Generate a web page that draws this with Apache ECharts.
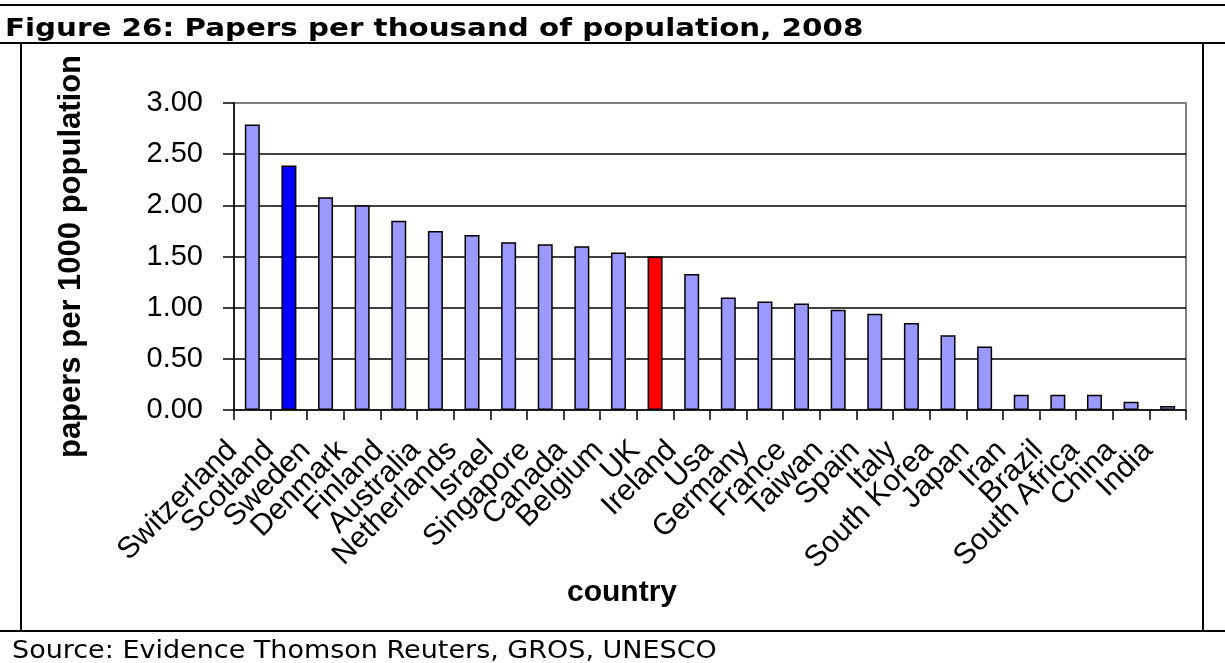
<!DOCTYPE html>
<html>
<head>
<meta charset="utf-8">
<script src="https://cdn.jsdelivr.net/npm/echarts@6/dist/echarts.min.js"></script>
<style>
  html, body { margin: 0; padding: 0; background: #ffffff; }
  #chart { width: 1225px; height: 663px; }
</style>
</head>
<body>
<div id="chart"></div>
<script>
// Countries, ordered by output per head
const countries = [
  'Switzerland', 'Scotland', 'Sweden', 'Denmark', 'Finland', 'Australia',
  'Netherlands', 'Israel', 'Singapore', 'Canada', 'Belgium', 'UK', 'Ireland',
  'Usa', 'Germany', 'France', 'Taiwan', 'Spain', 'Italy', 'South Korea',
  'Japan', 'Iran', 'Brazil', 'South Africa', 'China', 'India'
];

// Papers per 1000 population, 2008
const papersPerThousand = [
  2.79, 2.39, 2.08, 2.00, 1.85, 1.75,
  1.71, 1.64, 1.62, 1.60, 1.54, 1.50, 1.33,
  1.10, 1.06, 1.04, 0.98, 0.94, 0.85, 0.73,
  0.62, 0.15, 0.15, 0.15, 0.08, 0.04
];

// Value axis range and step
const yAxisMin = 0;
const yAxisMax = 3;
const yAxisStep = 0.5;

// Bars picked out in their own colour
const highlightColors = { Scotland: '#0000ff', UK: '#ff0000' };
const defaultBarColor = '#9999ff';

const titleText = 'Figure 26: Papers per thousand of population, 2008';
const sourceText = 'Source: Evidence Thomson Reuters, GROS, UNESCO';

const chart = echarts.init(document.getElementById('chart'), null, { renderer: 'canvas' });

// Ruled lines boxing the figure
const frameLine = (x1, y1, x2, y2) => ({
  type: 'line',
  silent: true,
  shape: { x1, y1, x2, y2 },
  style: { stroke: '#000000', lineWidth: 2 }
});

// Heading and source line, set in a wide sans
const wideText = (text, x, y, weight, scaleX) => ({
  type: 'text',
  silent: true,
  x, y, scaleX,
  style: {
    text,
    fontFamily: 'DejaVu Sans',
    fontWeight: weight,
    fontSize: 25,
    fill: '#000000',
    align: 'left',
    verticalAlign: 'top'
  }
});

chart.setOption({
  backgroundColor: '#ffffff',
  animation: false,
  graphic: [
    frameLine(0, 5, 1225, 5),
    frameLine(0, 43, 1225, 43),
    frameLine(0, 631, 1225, 631),
    frameLine(21, 43, 21, 631),
    frameLine(1203, 43, 1203, 631),
    wideText(titleText, 5, 17, 'bold', 1.174),
    wideText(sourceText, 12, 639, 'normal', 1.08)
  ],
  grid: {
    left: 234,
    right: 39,
    top: 103,
    bottom: 253,
    show: true,
    borderColor: '#808080',
    borderWidth: 2,
    backgroundColor: '#ffffff'
  },
  xAxis: {
    type: 'category',
    data: countries,
    name: 'country',
    nameLocation: 'middle',
    nameGap: 156,
    nameTextStyle: {
      fontFamily: 'Liberation Sans',
      fontWeight: 'bold',
      fontSize: 30,
      color: '#000000',
      padding: [0, 176, 0, 0]
    },
    axisLine: { show: true, lineStyle: { color: '#000000', width: 1.5 } },
    axisTick: { show: true, inside: false, length: 10, lineStyle: { color: '#000000', width: 1.5 } },
    axisLabel: {
      interval: 0,
      rotate: 45,
      margin: 16,
      padding: [0, 28, 0, 0],
      fontFamily: 'Liberation Sans',
      fontSize: 30,
      color: '#000000'
    },
    splitLine: { show: false }
  },
  yAxis: {
    type: 'value',
    min: yAxisMin,
    max: yAxisMax,
    interval: yAxisStep,
    name: 'papers per 1000 population',
    nameLocation: 'middle',
    nameGap: 147,
    nameTextStyle: { fontFamily: 'Liberation Sans', fontWeight: 'bold', fontSize: 31, color: '#000000' },
    axisLine: { show: true, lineStyle: { color: '#000000', width: 1.5 } },
    axisTick: { show: true, inside: false, length: 11, lineStyle: { color: '#000000', width: 1.5 } },
    axisLabel: {
      margin: 31,
      fontFamily: 'Liberation Sans',
      fontSize: 29,
      color: '#000000',
      formatter: (v) => v.toFixed(2)
    },
    splitLine: {
      show: true,
      showMinLine: false,
      showMaxLine: false,
      lineStyle: { color: '#000000', width: 1.5 }
    }
  },
  series: [
    {
      type: 'bar',
      barWidth: 15,
      data: papersPerThousand.map((v, i) => ({
        value: v,
        itemStyle: { color: highlightColors[countries[i]] || defaultBarColor }
      })),
      itemStyle: { borderColor: '#000000', borderWidth: 1.5 },
      emphasis: { disabled: true }
    }
  ]
});
</script>
</body>
</html>
